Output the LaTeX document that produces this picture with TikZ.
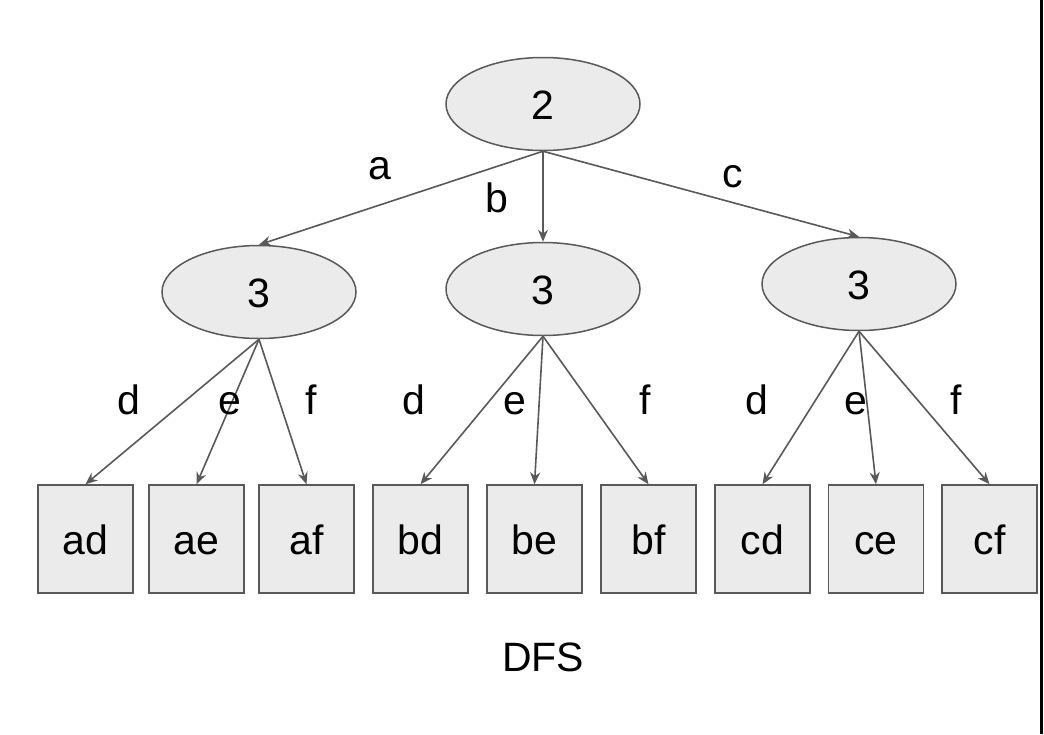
\documentclass[tikz,border=0pt]{standalone}
\usepackage{fontspec}
\setmainfont{Liberation Sans}
\usetikzlibrary{shapes.geometric,arrows.meta}
\definecolor{nodefill}{HTML}{EBEBEB}
\definecolor{nodeline}{HTML}{595959}
\tikzset{
  big/.style={font=\fontsize{41}{49}\selectfont},
  ell/.style={ellipse,draw=nodeline,fill=nodefill,line width=1.5pt,inner sep=0pt,minimum width=194pt,minimum height=93pt,big,text height=30pt,text depth=0pt},
  box/.style={rectangle,draw=nodeline,fill=nodefill,line width=1.5pt,inner sep=0pt,minimum width=95pt,minimum height=108pt,big,text height=30pt,text depth=0pt},
  edge/.style={draw=nodeline,line width=1.6pt,-{Stealth[length=12pt,width=10pt]}},
  lbl/.style={inner sep=0pt,anchor=base,big}
}
\begin{document}
\begin{tikzpicture}[x=1pt,y=-1pt]
\useasboundingbox[fill=white] (0,0) rectangle (1044,734);
\draw[line width=3pt,black] (1041,0) -- (1041,734);

\node[ell] (root) at (543,104) {2};
\node[ell] (l1) at (259,292) {3};
\node[ell] (l2) at (543,289) {3};
\node[ell] (l3) at (859,284) {3};

\node[box] (ad) at (85.5,539) {ad};
\node[box] (ae) at (196.5,539) {ae};
\node[box] (af) at (306.5,539) {af};
\node[box] (bd) at (420.5,539) {bd};
\node[box] (be) at (534.5,539) {be};
\node[box] (bf) at (648.5,539) {bf};
\node[box] (cd) at (762.5,539) {cd};
\node[box] (ce) at (876,539) {ce};
\node[box] (cf) at (989.5,539) {cf};

\path[edge] (root.south) -- (l1.north);
\path[edge] (root.south) -- (l2.north);
\path[edge] (root.south) -- (l3.north);

\path[edge] (l1.south) -- (ad.north);
\path[edge] (l1.south) -- (ae.north);
\path[edge] (l1.south) -- (af.north);
\path[edge] (l2.south) -- (bd.north);
\path[edge] (l2.south) -- (be.north);
\path[edge] (l2.south) -- (bf.north);
\path[edge] (l3.south) -- (cd.north);
\path[edge] (l3.south) -- (ce.north);
\path[edge] (l3.south) -- (cf.north);

\node[lbl] (la) at (380,179) {a};
\node[lbl] (lb) at (497,212) {b};
\node[lbl] (lc) at (733,187) {c};

\node[lbl] (d1) at (129,414) {d};
\node[lbl] (e1) at (230,414) {e};
\node[lbl] (f1) at (311,414) {f};
\node[lbl] (d2) at (414,414) {d};
\node[lbl] (e2) at (515,414) {e};
\node[lbl] (f2) at (645,414) {f};
\node[lbl] (d3) at (757,414) {d};
\node[lbl] (e3) at (856,414) {e};
\node[lbl] (f3) at (956,414) {f};

\node[lbl] (dfs) at (543,671) {DFS};
\end{tikzpicture}
\end{document}
